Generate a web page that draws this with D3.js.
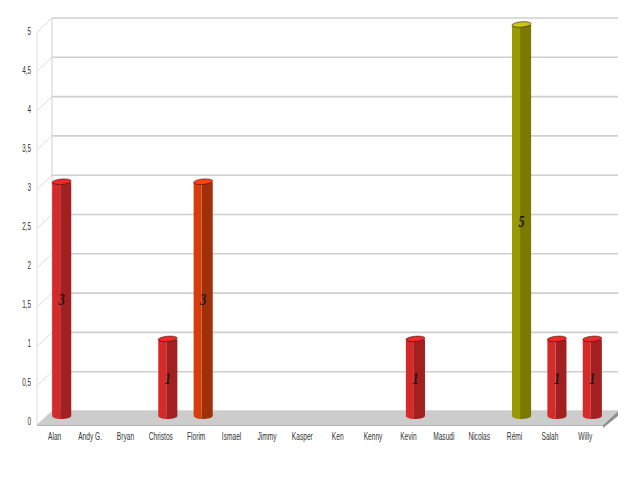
<!DOCTYPE html>
<html><head><meta charset="utf-8">
<script src="https://cdn.jsdelivr.net/npm/d3@7"></script>
<style>html,body{margin:0;padding:0;background:#fff}svg{display:block}</style></head>
<body><svg id="c" width="640" height="480"></svg>
<script>
const categories=["Alan","Andy G.","Bryan","Christos","Florim","Ismael","Jimmy","Kasper","Ken","Kenny","Kevin","Masudi","Nicolas","Rémi","Salah","Willy"];
const values=[3,0,0,1,3,0,0,0,0,0,1,0,0,5,1,1];
const tickValues=[0,0.5,1,1.5,2,2.5,3,3.5,4,4.5,5];
const palette={red:["#d42a2a","#a32020","#f02828"],orange:["#d63c0c","#a0300a","#ff4410"],olive:["#999900","#7a7a00","#c8c810"]};
const barPalette=["red","red","red","red","orange","red","red","red","red","red","red","red","red","olive","red","red"];

const svg=d3.select("#c");
const depthX=15,depthY=14;
const x=d3.scaleBand().domain(categories).range([37,603]).paddingInner(0.46).paddingOuter(0.23);
const y=d3.scaleLinear().domain([0,5]).range([425,32]);
const yLabel=d3.scaleLinear().domain([0,5]).range([421,31]);
const grid="#cfcfcf";
const x0=x.range()[0],x1=x.range()[1];

// walls
const g=svg.append("g");
g.selectAll("line.back").data(tickValues).join("line")
 .attr("x1",x0+depthX).attr("x2",x1+depthX)
 .attr("y1",d=>y(d)-depthY).attr("y2",d=>y(d)-depthY)
 .attr("stroke",grid).attr("stroke-width",1.6);
g.selectAll("line.side").data(tickValues).join("line")
 .attr("x1",x0).attr("x2",x0+depthX)
 .attr("y1",d=>y(d)).attr("y2",d=>y(d)-depthY)
 .attr("stroke","#dcdcdc").attr("stroke-width",1);
g.append("line").attr("x1",x0).attr("x2",x0).attr("y1",y(5)).attr("y2",y(0)).attr("stroke","#dcdcdc");
g.append("line").attr("x1",x0+depthX).attr("x2",x0+depthX).attr("y1",y(5)-depthY).attr("y2",y(0)-depthY).attr("stroke","#d8d8d8").attr("stroke-width",1.2);

// floor
const fl=y(0);
g.append("path").attr("d",`M${x1},${fl}L${x1+depthX},${fl-depthY}V${fl-depthY+5}L${x1},${fl+3}Z`).attr("fill","#8f8f8f");
g.append("path").attr("d",`M${x0},${fl}L${x0+depthX},${fl-depthY}H${x1+depthX}L${x1},${fl}Z`).attr("fill","#cccccc");
g.append("line").attr("x1",x0).attr("x2",x1).attr("y1",fl+0.5).attr("y2",fl+0.5).attr("stroke","#b4b4b4");

// bars
const off=7,bw=x.bandwidth();
const bars=svg.append("g").selectAll("g").data(categories.map((c,i)=>({c,v:values[i],p:palette[barPalette[i]]})).filter(d=>d.v>0)).join("g");
const ry=3;
bars.each(function(d){
  const s=d3.select(this),l=x(d.c)+off,r=l+bw,m=l+bw*0.42,top=y(d.v)-off,bot=y(0)-off-2;
  s.append("path").attr("d",`M${m},${top}H${r}V${bot}A${bw/2},${ry} 0 0 1 ${m},${bot+ry}Z`).attr("fill",d.p[1]);
  s.append("path").attr("d",`M${l},${top}H${m}V${bot+ry}A${bw/2},${ry} 0 0 1 ${l},${bot}Z`).attr("fill",d.p[0]);
  s.append("ellipse").attr("cx",l+bw/2).attr("cy",top-0.5).attr("rx",bw/2).attr("ry",ry-0.3)
    .attr("transform",`rotate(-5 ${l+bw/2} ${top})`).attr("fill",d.p[2]).attr("stroke","#4a1010").attr("stroke-width",0.6);
  s.append("text").attr("x",0).attr("y",0)
    .attr("transform",`translate(${l+bw/2},${y(d.v/2)-off+5}) scale(0.8,1.1)`)
    .attr("text-anchor","middle").attr("font-family","'Liberation Serif',serif").attr("font-style","italic").attr("font-weight","bold")
    .attr("font-size",15).attr("fill","#1a1a1a").text(d.v);
});

// axes
const ax=svg.append("g").attr("transform","translate(31,0)")
 .call(d3.axisLeft(yLabel).tickValues(tickValues).tickSize(0).tickPadding(0).tickFormat(d=>String(d).replace(".",",")));
ax.select(".domain").remove();
ax.selectAll("text").attr("x",0).attr("transform","scale(0.58,1)")
 .attr("font-family","'Liberation Sans',sans-serif").attr("font-size",11).attr("fill","#333");
const bx=svg.append("g").attr("transform","translate(0,432)")
 .call(d3.axisBottom(x).tickSize(0).tickPadding(0));
bx.select(".domain").remove();
bx.selectAll("text").attr("x",0).attr("y",0).attr("dy","0.75em").attr("transform","scale(0.6,1)")
 .attr("font-family","'Liberation Sans',sans-serif").attr("font-size",11).attr("fill","#333");
</script></body></html>
